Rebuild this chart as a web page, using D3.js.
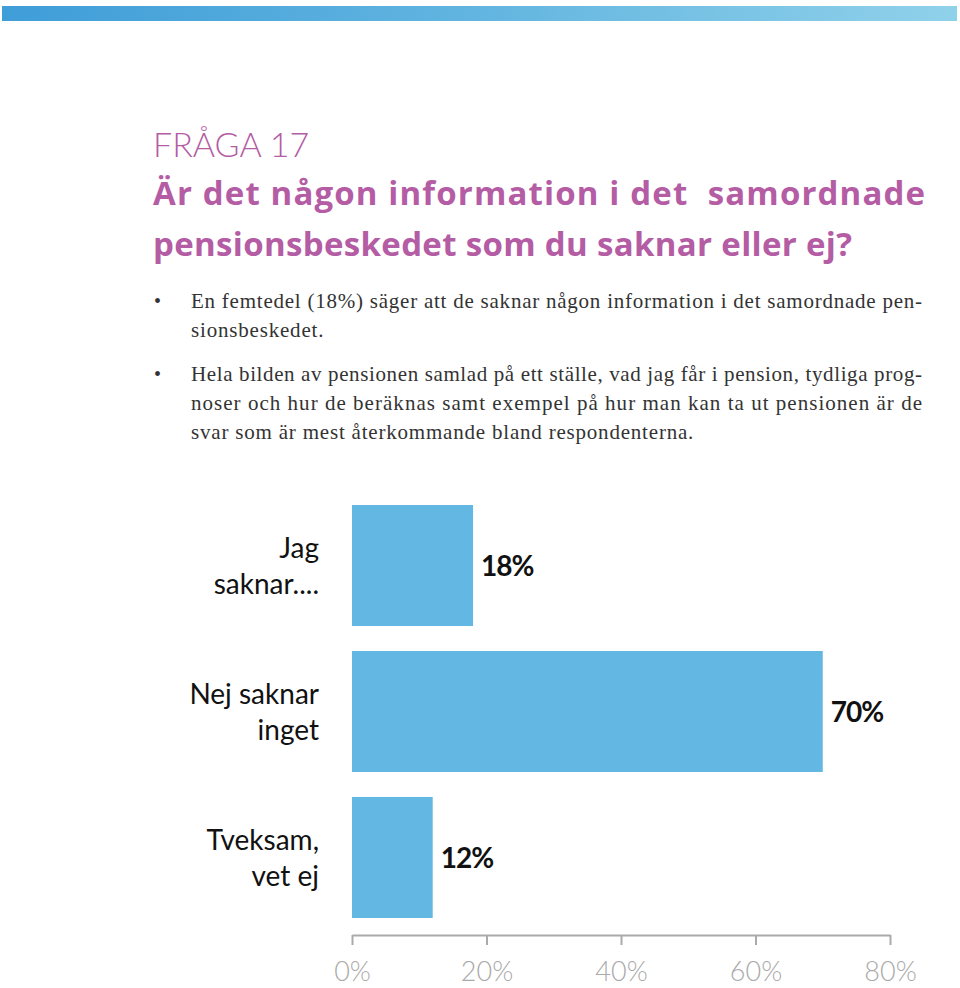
<!DOCTYPE html>
<html><head><meta charset="utf-8">
<script src="https://cdn.jsdelivr.net/npm/d3@7"></script>
<style>body{margin:0;background:#fff}</style>
</head><body>
<svg id="c" width="960" height="988"></svg>
<script>
const categories = [["Jag","saknar...."],["Nej saknar","inget"],["Tveksam,","vet ej"]];
const values = [18, 70, 12];
const tickValues = [0, 20, 40, 60, 80];
const titleSmall = "FRÅGA 17";
const titleLines = ["Är det någon information i det  samordnade", "pensionsbeskedet som du saknar eller ej?"];
const titleWidths = [772, 699];
const bullets = [
  ["En femtedel (18%) säger att de saknar någon information i det samordnade pen-", "sionsbeskedet."],
  ["Hela bilden av pensionen samlad på ett ställe, vad jag får i pension, tydliga prog-",
   "noser och hur de beräknas samt exempel på hur man kan ta ut pensionen är de",
   "svar som är mest återkommande bland respondenterna."]
];

const svg = d3.select("#c");
const defs = svg.append("defs");
const g = defs.append("linearGradient").attr("id","top").attr("x1","0").attr("x2","1");
g.append("stop").attr("offset","0").attr("stop-color","#3f9dd8");
g.append("stop").attr("offset","0.5").attr("stop-color","#62b5e0");
g.append("stop").attr("offset","1").attr("stop-color","#90d1ea");
svg.append("rect").attr("x",2).attr("y",6).attr("width",955).attr("height",15).attr("fill","url(#top)");

const pink = "#b45ca4";
svg.append("text").attr("x",153).attr("y",157).attr("fill",pink)
  .style("font-family","Lato").style("font-weight",300).style("font-size","34px").text(titleSmall);
titleLines.forEach((t,i)=>{
  svg.append("text").attr("x",153).attr("y",205+i*51).attr("fill",pink)
    .style("font-family","Open Sans").style("font-weight",700).style("font-size","33px")
    .attr("xml:space","preserve").style("white-space","pre")
    .attr("textLength",titleWidths[i]).attr("lengthAdjust","spacing").text(t);
});

// bullets
const bulletLineY = [[308,337],[381,410,439]];
const justify = [[true,false],[true,true,false]];
let scaleRatio = null;
bullets.forEach((lines,bi)=>{
  svg.append("text").attr("x",154).attr("y",bulletLineY[bi][0]).attr("fill","#333")
    .style("font-family","Liberation Serif").style("font-size","20px").text("•");
  lines.forEach((t,li)=>{
    const tx = svg.append("text").attr("x",191).attr("y",bulletLineY[bi][li]).attr("fill","#333")
      .style("font-family","Liberation Serif").style("font-size","21px").text(t);
    const w = tx.node().getComputedTextLength();
    if (bi===0 && li===0) scaleRatio = 731 / w;
    if (justify[bi][li]) tx.attr("textLength",731).attr("lengthAdjust","spacing");
    else tx.attr("textLength", w*scaleRatio).attr("lengthAdjust","spacing");
  });
});

// chart
const x = d3.scaleLinear().domain([0,80]).range([352,890]);
const y = d3.scaleBand().domain(d3.range(values.length)).range([505,918]).paddingInner(0.171).paddingOuter(0);

svg.append("g").selectAll("rect").data(values).join("rect")
  .attr("x",x(0)).attr("y",(d,i)=>y(i)).attr("width",d=>x(d)-x(0)).attr("height",y.bandwidth())
  .attr("fill","#62b8e3");

svg.append("g").selectAll("text").data(values).join("text")
  .attr("x",d=>x(d)+8).attr("y",(d,i)=>y(i)+y.bandwidth()/2).attr("dy","0.36em")
  .style("font-family","Lato").style("font-weight",700).style("font-size","28px").attr("fill","#111")
  .attr("letter-spacing","-1px")
  .text(d=>d+"%");

const lab = svg.append("g").selectAll("text").data(categories).join("text")
  .attr("text-anchor","end").style("font-family","Lato").style("font-weight",400).style("font-size","28px")
  .attr("fill","#111");
lab.each(function(d,i){
  const c = y(i)+y.bandwidth()/2;
  d3.select(this).selectAll("tspan").data(d).join("tspan")
    .attr("x",319).attr("y",(s,j)=>c+(j-0.5)*36).attr("dy","0.36em").text(s=>s);
});

const ax = svg.append("g").attr("transform","translate(0,935)")
  .call(d3.axisBottom(x).tickValues(tickValues).tickFormat(d=>d+"%").tickSize(10).tickSizeOuter(0).tickPadding(17));
ax.select(".domain").attr("stroke","#aaa").attr("stroke-width",2);
ax.selectAll(".tick line").attr("stroke","#aaa").attr("stroke-width",2);
ax.selectAll(".tick text").attr("fill","#aaa").style("font-family","Lato").style("font-weight",300).style("font-size","27px");
</script>
</body></html>
